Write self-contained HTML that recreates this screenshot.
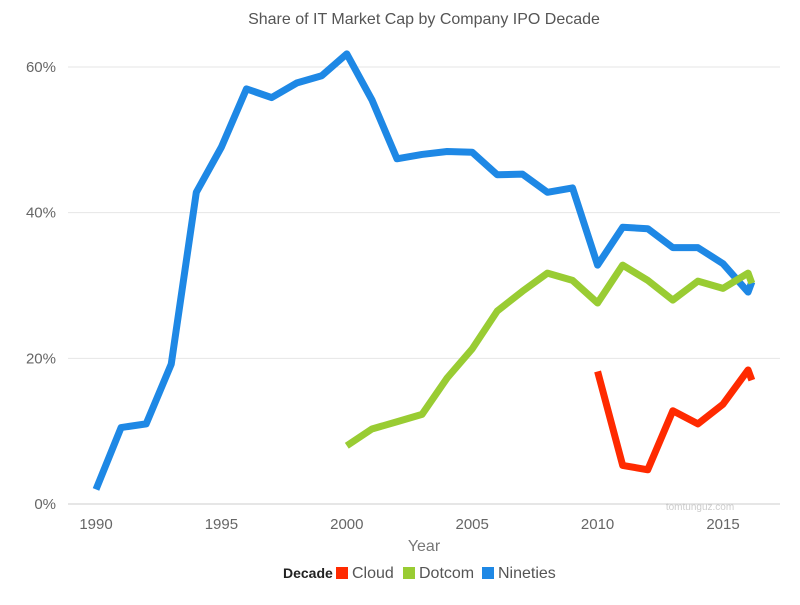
<!DOCTYPE html>
<html><head><meta charset="utf-8"><style>
body{margin:0;background:#fff;font-family:"Liberation Sans",sans-serif}
svg text{font-family:"Liberation Sans",sans-serif}
</style></head><body>
<svg id="chart" width="800" height="600" viewBox="0 0 800 600">
<text x="424" y="24" text-anchor="middle" font-size="16" fill="#555">Share of IT Market Cap by Company IPO Decade</text>
<g id="grid"></g><g id="xt"></g><g id="lines"></g>
<text x="700" y="510" text-anchor="middle" font-size="10" fill="#ccc">tomtunguz.com</text>
<text x="424" y="551" text-anchor="middle" font-size="16" fill="#777">Year</text>
<g font-size="16">
<text x="283" y="578" font-weight="bold" font-size="14" fill="#222">Decade</text>
<rect x="336" y="567" width="12" height="12" fill="#ff2a00"/>
<text x="352" y="578" fill="#555">Cloud</text>
<rect x="403" y="567" width="12" height="12" fill="#99cc33"/>
<text x="419" y="578" fill="#555">Dotcom</text>
<rect x="482" y="567" width="12" height="12" fill="#1e88e5"/>
<text x="498" y="578" fill="#555">Nineties</text>
</g>
</svg>
<script>
const ninetiesYears=[1990,1991,1992,1993,1994,1995,1996,1997,1998,1999,2000,2001,2002,2003,2004,2005,2006,2007,2008,2009,2010,2011,2012,2013,2014,2015,2016,2016.15];
const ninetiesValues=[2,10.5,11,19.2,42.8,49,57,55.8,57.8,58.8,61.8,55.5,47.4,48,48.4,48.3,45.2,45.3,42.8,43.4,32.8,38,37.8,35.2,35.2,33,29.1,30.5];
const dotcomYears=[2000,2001,2002,2003,2004,2005,2006,2007,2008,2009,2010,2011,2012,2013,2014,2015,2016,2016.15];
const dotcomValues=[8,10.3,11.3,12.3,17.3,21.3,26.5,29.2,31.7,30.7,27.6,32.8,30.7,28,30.6,29.6,31.7,30.3];
const cloudYears=[2010,2011,2012,2013,2014,2015,2016,2016.15];
const cloudValues=[18.2,5.3,4.7,12.8,11,13.7,18.4,17];
const yTicks=[0,20,40,60];
const xTicks=[1990,1995,2000,2005,2010,2015];
const X=y=>96+(y-1990)*25.08;
const Y=v=>504-v*7.283;
const NS="http://www.w3.org/2000/svg";
function mk(t,p,a){const e=document.createElementNS(NS,t);for(const k in a)e.setAttribute(k,a[k]);p.appendChild(e);return e;}
const g=document.getElementById('grid');
yTicks.forEach(v=>{
 const l=mk('line',g,{x1:68,x2:780,y1:Y(v),y2:Y(v),stroke:v===0?'#ccc':'#e6e6e6','stroke-width':1});
 
 
 const t=mk('text',g,{x:56,y:Y(v)+5,'text-anchor':'end','font-size':15,fill:'#666'});t.textContent=v+'%';
 
 
});
const xt=document.getElementById('xt');
xTicks.forEach(v=>{
 const t=mk('text',xt,{x:X(v),y:529,'text-anchor':'middle','font-size':15,fill:'#666'});t.textContent=v;
 
 
});
const L=document.getElementById('lines');
[[ninetiesYears,ninetiesValues,'#1e88e5','nineties'],[dotcomYears,dotcomValues,'#99cc33','dotcom'],[cloudYears,cloudValues,'#ff2a00','cloud']].forEach(([xs,vs,c,n])=>{
 const p=mk('polyline',L,{points:xs.map((x,i)=>X(x)+','+Y(vs[i])).join(' '),fill:'none',stroke:c,'stroke-width':7,'stroke-linejoin':'round'});
 
 
});
</script>
</body></html>
